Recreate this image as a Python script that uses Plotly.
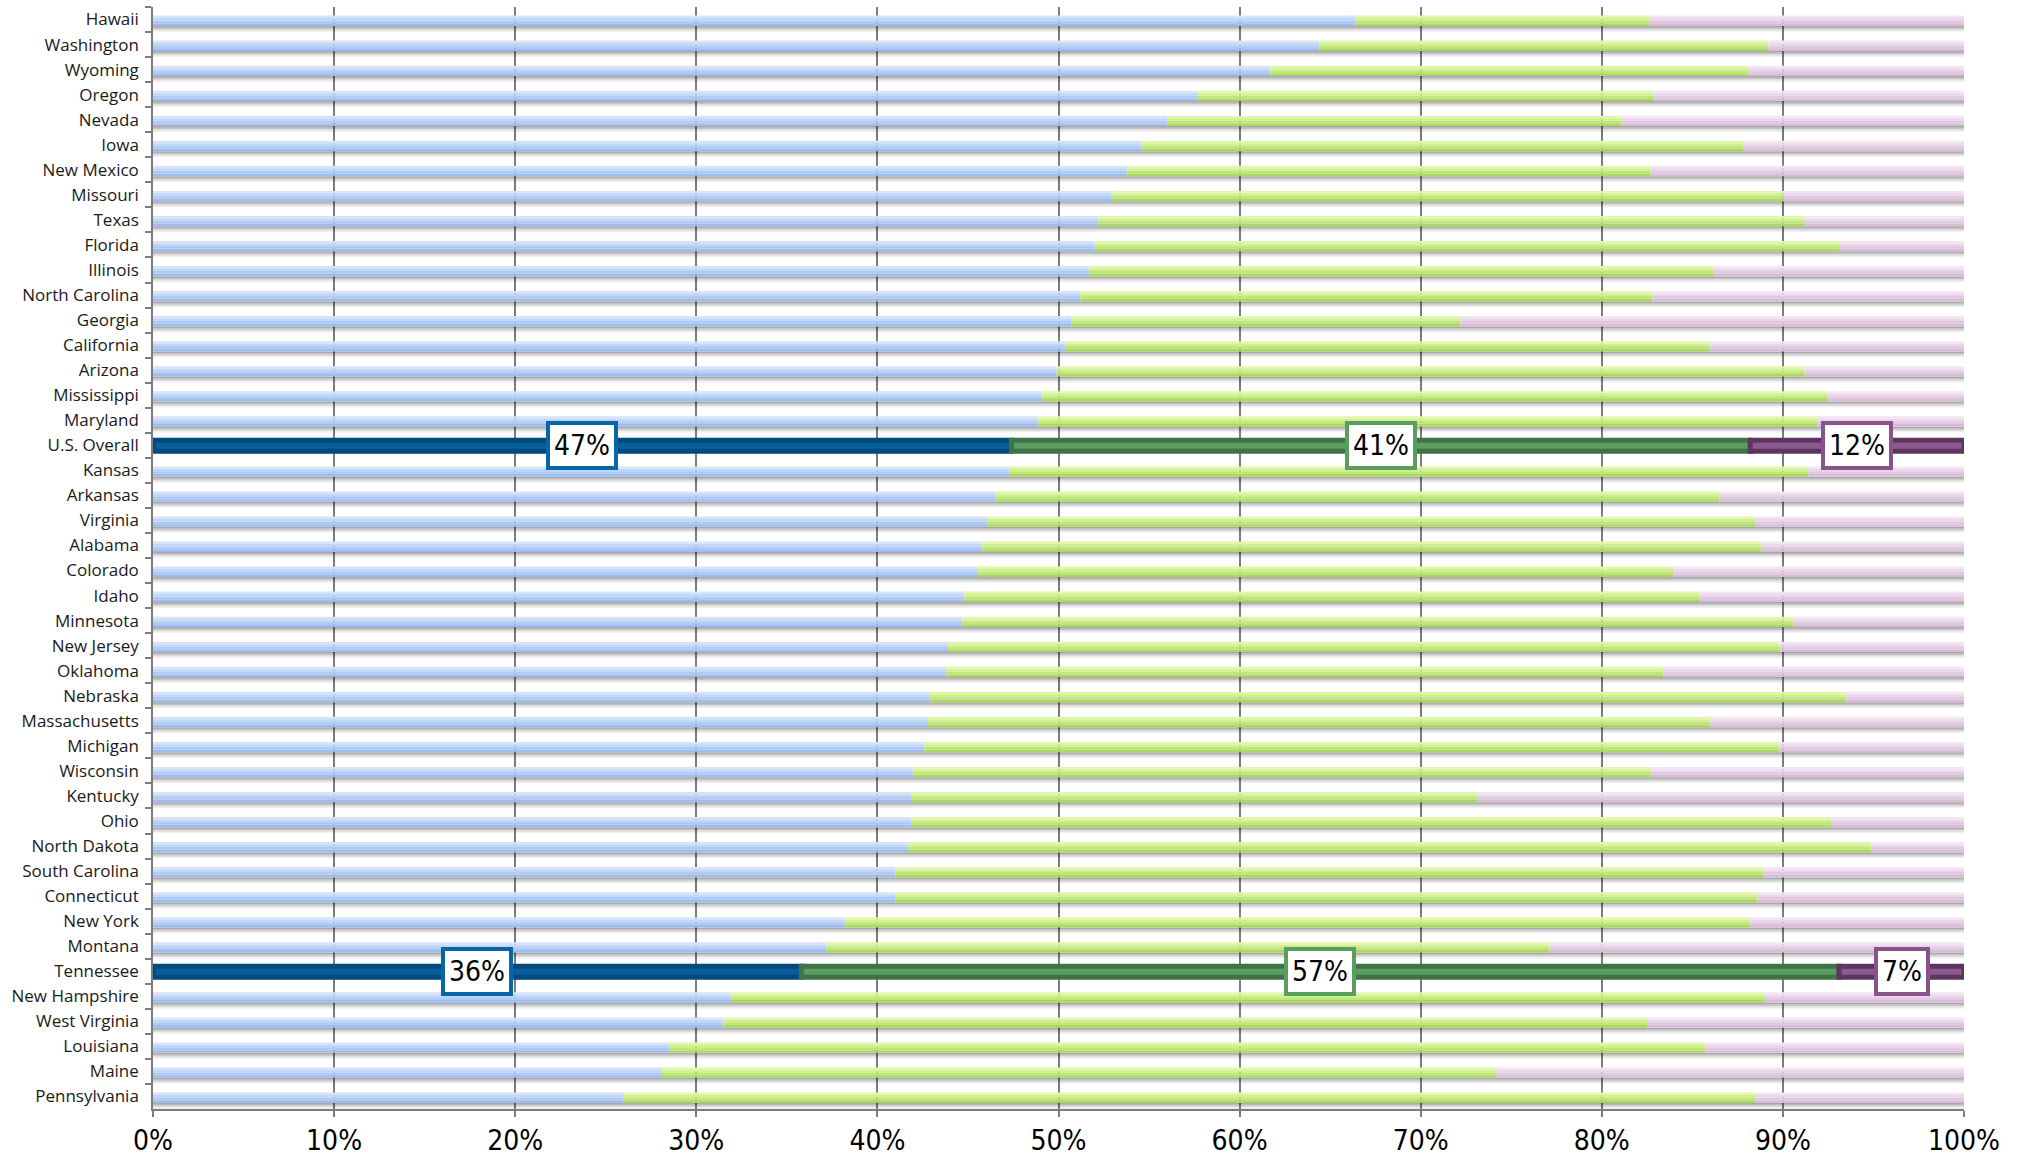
import plotly.graph_objects as go

# Rows, top to bottom
states = [
    "Hawaii", "Washington", "Wyoming", "Oregon", "Nevada", "Iowa", "New Mexico",
    "Missouri", "Texas", "Florida", "Illinois", "North Carolina", "Georgia",
    "California", "Arizona", "Mississippi", "Maryland", "U.S. Overall", "Kansas",
    "Arkansas", "Virginia", "Alabama", "Colorado", "Idaho", "Minnesota",
    "New Jersey", "Oklahoma", "Nebraska", "Massachusetts", "Michigan", "Wisconsin",
    "Kentucky", "Ohio", "North Dakota", "South Carolina", "Connecticut", "New York",
    "Montana", "Tennessee", "New Hampshire", "West Virginia", "Louisiana", "Maine",
    "Pennsylvania",
]

# Percent shares of the three segments (left, middle, right)
share_left = [
    66.4, 64.4, 61.7, 57.7, 56.0, 54.6, 53.8,
    52.9, 52.2, 52.0, 51.7, 51.2, 50.7,
    50.4, 49.9, 49.1, 48.9, 47.4, 47.3,
    46.5, 46.1, 45.8, 45.5, 44.8, 44.7,
    43.9, 43.8, 42.9, 42.8, 42.6, 42.0,
    41.9, 41.9, 41.7, 41.0, 41.0, 38.2,
    37.2, 35.8, 31.9, 31.5, 28.5, 28.1,
    26.0,
]
share_mid = [
    16.2, 24.8, 26.4, 25.2, 25.1, 33.2, 28.9,
    37.1, 39.0, 41.1, 34.5, 31.6, 21.5,
    35.6, 41.3, 43.4, 43.0, 40.8, 44.1,
    40.0, 42.4, 43.0, 38.5, 40.6, 45.9,
    45.9, 39.6, 50.6, 43.2, 47.2, 40.7,
    31.2, 50.8, 53.2, 47.9, 47.6, 50.0,
    39.9, 57.3, 57.1, 51.0, 57.2, 46.1,
    62.5,
]
share_right = [
    17.4, 10.8, 11.9, 17.1, 18.9, 12.2, 17.3,
    10.0, 8.8, 6.9, 13.8, 17.2, 27.8,
    14.0, 8.8, 7.5, 8.1, 11.8, 8.6,
    13.5, 11.5, 11.2, 16.0, 14.6, 9.4,
    10.2, 16.6, 6.5, 14.0, 10.2, 17.3,
    26.9, 7.3, 5.1, 11.1, 11.4, 11.8,
    22.9, 6.9, 11.0, 17.5, 14.3, 25.8,
    11.5,
]

highlighted = ["U.S. Overall", "Tennessee"]

W, H = 2017, 1164
M_L, M_R, M_T, M_B = 153, 53, 7, 41
ROW_PX = (H - M_T - M_B) / len(states)


def rows(px):
    """Convert a pixel distance on the category axis into row units."""
    return px / ROW_PX


segments = [share_left, share_mid, share_right]
bases = []
run = [0.0] * len(states)
for seg in segments:
    bases.append(list(run))
    run = [r + v for r, v in zip(run, seg)]
totals = run

is_hi = [s in highlighted for s in states]


def light(vals):
    return [None if h else v for v, h in zip(vals, is_hi)]


def heavy(vals):
    return [v if h else None for v, h in zip(vals, is_hi)]


fig = go.Figure()

# soft drop shadow under each plain bar
shadow_bands = [(6.5, 8.0, 0.34), (8.0, 9.5, 0.23), (9.5, 11.0, 0.13), (11.0, 12.5, 0.06)]
for y0, y1, a in shadow_bands:
    fig.add_trace(go.Bar(
        orientation="h", y=states, x=light(totals), base=0,
        offset=rows(y0), width=rows(y1 - y0),
        marker=dict(color=f"rgba(0,0,0,{a})", line=dict(width=0)),
        hoverinfo="skip", showlegend=False,
    ))

# plain bars: vertical gradient built from stacked bands
band_edges = [-4.0, -1.5, 1.0, 3.8, 6.5]
band_colors = [
    ["#d5e4fa", "#c2d6f7", "#afcaf4", "#9ebdef"],   # blue
    ["#e0f8aa", "#d1f093", "#c0e57b", "#abd85e"],   # green
    ["#f3e5f3", "#ead7ea", "#e2c9e2", "#d8bcd8"],   # pink
]
names = ["Share 1", "Share 2", "Share 3"]
for k, seg in enumerate(segments):
    for b in range(4):
        fig.add_trace(go.Bar(
            orientation="h", y=states, x=light(seg), base=light(bases[k]),
            offset=rows(band_edges[b]), width=rows(band_edges[b + 1] - band_edges[b]),
            marker=dict(color=band_colors[k][b], line=dict(width=0)),
            name=names[k], showlegend=False,
            hovertemplate="%{y}: %{x:.1f}%<extra></extra>",
        ))

# emphasised rows
hi_fill = ["#0b5e9c", "#5b9e61", "#8a5a8e"]
hi_line = ["#004a80", "#3f7446", "#5d3560"]
label_border = ["#0766a6", "#5a9e5e", "#88528a"]
for k, seg in enumerate(segments):
    fig.add_trace(go.Bar(
        orientation="h", y=states, x=heavy(seg), base=heavy(bases[k]),
        offset=rows(-5), width=rows(11),
        marker=dict(color=hi_fill[k], line=dict(color=hi_line[k], width=5)),
        name=names[k], showlegend=False,
        hovertemplate="%{y}: %{x:.1f}%<extra></extra>",
    ))

annotations = []
for i, s in enumerate(states):
    if not is_hi[i]:
        continue
    for k, seg in enumerate(segments):
        v = seg[i]
        annotations.append(dict(
            x=bases[k][i] + v / 2, y=s, xref="x", yref="y",
            text=f"{v:.0f}%", showarrow=False,
            font=dict(family="Liberation Sans Narrow, DejaVu Sans Condensed, Liberation Sans",
                      size=28, color="#000000"),
            bgcolor="#ffffff", bordercolor=label_border[k], borderwidth=4, borderpad=4,
        ))

grid = "#7c7c7c"
fig.update_layout(
    width=W, height=H,
    margin=dict(l=M_L, r=M_R, t=M_T, b=M_B),
    paper_bgcolor="#ffffff", plot_bgcolor="#ffffff",
    barmode="overlay", showlegend=False,
    annotations=annotations,
    xaxis=dict(
        range=[0, 100], dtick=10, ticksuffix="%", tickmode="linear", tick0=0,
        showgrid=True, gridcolor=grid, gridwidth=1.5, zeroline=False,
        showline=True, linecolor=grid, linewidth=1.5,
        ticks="outside", ticklen=6, tickcolor=grid, tickwidth=1.5,
        tickfont=dict(family="Liberation Sans Narrow, DejaVu Sans Condensed, Liberation Sans",
                      size=28, color="#000000"),
    ),
    yaxis=dict(
        type="category", categoryorder="array", categoryarray=states,
        range=[len(states) - 0.5, -0.5],
        showgrid=False, zeroline=False,
        showline=True, linecolor=grid, linewidth=1.5,
        ticks="outside", tickson="boundaries", ticklen=6, tickcolor=grid, tickwidth=1.5,
        ticklabelstandoff=9,
        tickfont=dict(family="Open Sans, Liberation Sans", size=17, color="#1a1a1a"),
    ),
)

fig.write_html("out.html")
